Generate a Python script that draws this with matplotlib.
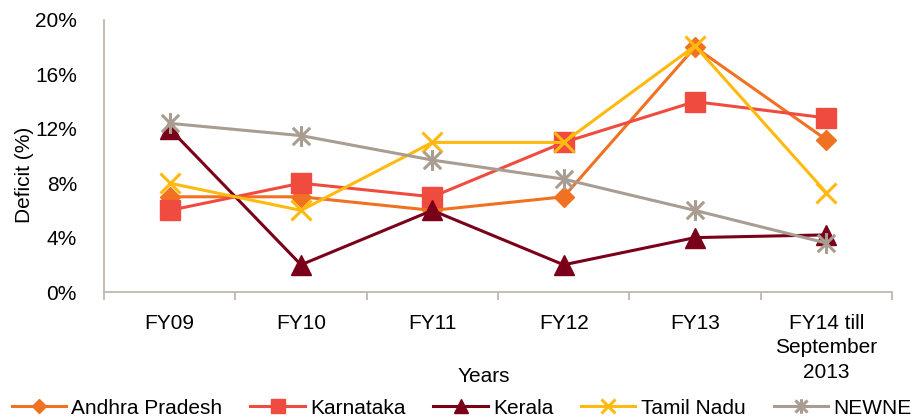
import matplotlib
matplotlib.use("Agg")
import matplotlib.pyplot as plt
from matplotlib.path import Path
from matplotlib.ticker import FixedLocator, NullFormatter, PercentFormatter

plt.rcParams['font.family'] = ['Liberation Sans', 'DejaVu Sans']

# ---- Data: power deficit by state (%) ----
years = ['FY09', 'FY10', 'FY11', 'FY12', 'FY13', 'FY14 till\nSeptember\n2013']

andhra_pradesh = [7.0, 7.0, 6.0, 7.0, 18.0, 11.2]
karnataka      = [6.0, 8.0, 7.0, 11.0, 14.0, 12.8]
kerala         = [12.0, 2.0, 6.0, 2.0, 4.0, 4.2]
tamil_nadu     = [8.0, 6.0, 11.0, 11.0, 18.1, 7.3]
newne          = [12.4, 11.5, 9.7, 8.3, 6.0, 3.6]

axis_grey = '#BFB7AE'
text_size = 15
line_width = 2.2

# asterisk: an x with a vertical stroke through it
asterisk = Path(
    [(-1, -1), (1, 1), (-1, 1), (1, -1), (0, -1.2), (0, 1.2)],
    [Path.MOVETO, Path.LINETO, Path.MOVETO, Path.LINETO, Path.MOVETO, Path.LINETO],
)

fig = plt.figure(figsize=(9.23, 4.19), dpi=100)
ax = fig.add_axes([104 / 923, 127 / 419, 788 / 923, 272 / 419])

x = range(len(years))

ax.plot(x, andhra_pradesh, color='#F07122', linewidth=line_width, marker='D', markersize=10,
        label='Andhra Pradesh')
ax.plot(x, karnataka, color='#F04B3F', linewidth=line_width, marker='s', markersize=14,
        label='Karnataka')
ax.plot(x, kerala, color='#7A0019', linewidth=line_width, marker='^', markersize=14,
        label='Kerala')
ax.plot(x, tamil_nadu, color='#FFB90F', linewidth=line_width, marker='x', markersize=14,
        markeredgewidth=line_width, label='Tamil Nadu')
ax.plot(x, newne, color='#A99D92', linewidth=line_width, marker=asterisk, markersize=15,
        markeredgewidth=line_width, label='NEWNE')

ax.set_xlim(-0.5, len(years) - 0.5)
ax.set_ylim(0, 20)
ax.set_yticks([0, 4, 8, 12, 16, 20])
ax.yaxis.set_major_formatter(PercentFormatter(decimals=0))
ax.tick_params(axis='y', length=0, labelsize=text_size, pad=19.5)

# category labels in the middle, tick marks on the boundaries
ax.set_xticks(list(x))
ax.set_xticklabels(years, fontsize=text_size, va='top', linespacing=1.37)
ax.tick_params(axis='x', which='major', length=0, pad=15.5)
ax.xaxis.set_minor_locator(FixedLocator([i - 0.5 for i in range(len(years) + 1)]))
ax.xaxis.set_minor_formatter(NullFormatter())
ax.tick_params(axis='x', which='minor', length=6, width=1.3, color=axis_grey, direction='out')

for side in ['top', 'right']:
    ax.spines[side].set_visible(False)
for side in ['left', 'bottom']:
    ax.spines[side].set_color(axis_grey)
    ax.spines[side].set_linewidth(1.3)

ax.set_xlabel('Years', fontsize=text_size, va='baseline')
ax.xaxis.set_label_coords(0.482, -0.331)
ax.set_ylabel('Deficit (%)', fontsize=text_size, va='center')
ax.yaxis.set_label_coords(-0.1015, 0.43)

fig.legend(loc='center', bbox_to_anchor=(0.5, 0.026), ncol=5, frameon=False,
           fontsize=text_size, handlelength=2.6, columnspacing=1.35, handletextpad=0.25,
           markerscale=0.7, borderaxespad=0, borderpad=0)

fig.savefig('out.png', dpi=100)
